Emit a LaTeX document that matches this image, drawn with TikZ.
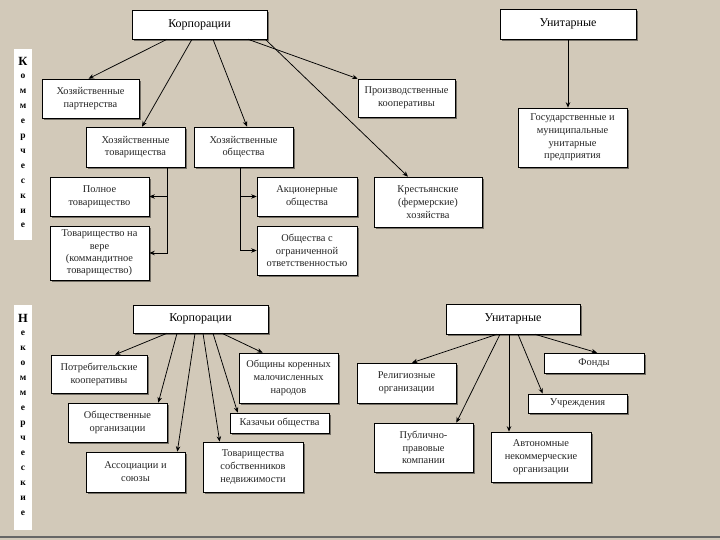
\documentclass[tikz,border=0pt]{standalone}
\usepackage{fontspec}
\setmainfont{Liberation Serif}
\usetikzlibrary{arrows.meta,shadows,calc}
\definecolor{bg}{RGB}{210,201,185}
\begin{document}
\begin{tikzpicture}[x=1pt,y=-1pt,
  box/.style={draw=black,line width=0.6pt,fill=white,inner sep=1pt,align=center,
    font=\fontsize{10.4}{12.8}\selectfont,text=black!85,
    drop shadow={shadow xshift=1.6pt,shadow yshift=-1.6pt,fill=black,opacity=0.45}},
  head/.style={box,font=\fontsize{12}{14}\selectfont,text=black},
  sz/.style 2 args={minimum width=#1pt,minimum height=#2pt},
  arr/.style={-{Stealth[length=5.5pt,width=4.5pt]},line width=0.75pt},
  stripbox/.style={fill=white,draw=none,inner sep=0pt},
  letter/.style={anchor=base,inner sep=0pt,font=\bfseries\fontsize{9.5}{11}\selectfont},
  bigletter/.style={anchor=base,inner sep=0pt,font=\bfseries\fontsize{12.5}{14}\selectfont}]
\useasboundingbox (0,0) rectangle (720,540);
\fill[bg] (0,0) rectangle (720,540);
\fill[black!60] (0,536) rectangle (720,538);

% ---------- vertical strips ----------
\node[stripbox,sz={18}{191}] (s1) at (23,144.5) {};
\node[bigletter] at (23,66) {К};
\foreach \l [count=\i from 0] in {о,м,м,е,р,ч,е,с,к,и,е}
  \node[letter] at (23,79+14.9*\i) {\l};
\node[stripbox,sz={18}{225}] (s2) at (23,417.5) {};
\node[bigletter] at (23,322) {Н};
\foreach \l [count=\i from 0] in {е,к,о,м,м,е,р,ч,е,с,к,и,е}
  \node[letter] at (23,335.5+15*\i) {\l};

% ---------- top: commercial ----------
\node[head,sz={135}{29}] (k1) at (199.5,24.5) {Корпорации};
\node[head,sz={136}{30}] (u1) at (568,24) {Унитарные};
\node[box,sz={97}{39}] (hp) at (90.5,98.5) {Хозяйственные\\партнерства};
\node[box,sz={97}{38}] (pk) at (406.5,98) {Производственные\\кооперативы};
\node[box,sz={99}{40}] (ht) at (135.5,147) {Хозяйственные\\товарищества};
\node[box,sz={99}{40}] (ho) at (243.5,147) {Хозяйственные\\общества};
\node[box,sz={99}{39}] (pt) at (99.5,196.5) {Полное\\товарищество};
\node[box,sz={99}{54},font=\fontsize{10.4}{12.2}\selectfont] (tv) at (99.5,253) {Товарищество на\\вере\\(коммандитное\\товарищество)};
\node[box,sz={100}{39}] (ao) at (307,196.5) {Акционерные\\общества};
\node[box,sz={100}{49}] (ooo) at (307,250.5) {Общества с\\ограниченной\\ответственностью};
\node[box,sz={108}{50}] (kfh) at (428,202) {Крестьянские\\(фермерские)\\хозяйства};
\node[box,sz={109}{59}] (gmup) at (572.5,137.5) {Государственные и\\муниципальные\\унитарные\\предприятия};

\draw[arr] ([xshift=-32.5pt]k1.south) -- ([xshift=-2pt]hp.north);
\draw[arr] ([xshift=-7.5pt]k1.south) -- ([xshift=6.5pt]ht.north);
\draw[arr] ([xshift=13.5pt]k1.south) -- ([xshift=3.5pt]ho.north);
\draw[arr] ([xshift=48.5pt]k1.south) -- (pk.north west);
\draw[arr] ([xshift=-2pt]k1.south east) -- ([xshift=-20pt]kfh.north);
\draw[arr] (u1.south) -- (u1.south |- gmup.north);

\draw[arr] ([xshift=31.5pt]ht.south) |- (tv.east);
\draw[arr] ([xshift=31.5pt]ht.south |- pt.east) -- (pt.east);
\draw[arr] ([xshift=-3.5pt]ho.south) |- (ooo.west);
\draw[arr] ([xshift=-3.5pt]ho.south |- ao.west) -- (ao.west);

% ---------- bottom: non-commercial ----------
\node[head,sz={135}{28}] (k2) at (200.5,319) {Корпорации};
\node[box,sz={96}{38}] (potr) at (99,374) {Потребительские\\кооперативы};
\node[box,sz={99}{50}] (obsh) at (288.5,378) {Общины коренных\\малочисленных\\народов};
\node[box,sz={99}{39}] (obor) at (117.5,422.5) {Общественные\\организации};
\node[box,sz={99}{20}] (kaz) at (279.5,423) {Казачьи общества};
\node[box,sz={99}{40}] (ass) at (135.5,472) {Ассоциации и\\союзы};
\node[box,sz={100}{50}] (tsn) at (253,467) {Товарищества\\собственников\\недвижимости};

\draw[arr] ([xshift=-33.5pt]k2.south) -- ([xshift=16pt]potr.north);
\draw[arr] ([xshift=-23.5pt]k2.south) -- ([xshift=-9pt]obor.north east);
\draw[arr] ([xshift=-5.5pt]k2.south) -- ([xshift=-8pt]ass.north east);
\draw[arr] ([xshift=2.5pt]k2.south) -- ([xshift=17pt]tsn.north west);
\draw[arr] ([xshift=12.5pt]k2.south) -- ([xshift=8pt]kaz.north west);
\draw[arr] ([xshift=21.5pt]k2.south) -- ([xshift=24pt]obsh.north west);

\node[head,sz={134}{30}] (u2) at (513,319) {Унитарные};
\node[box,sz={100}{20}] (fond) at (594,363) {Фонды};
\node[box,sz={99}{40}] (rel) at (406.5,383) {Религиозные\\организации};
\node[box,sz={99}{19}] (uch) at (577.5,403.5) {Учреждения};
\node[box,sz={99}{49}] (ppk) at (423.5,447.5) {Публично-\\правовые\\компании};
\node[box,sz={100}{50}] (ano) at (541,457) {Автономные\\некоммерческие\\организации};

\draw[arr] ([xshift=-16pt]u2.south) -- ([xshift=5.5pt]rel.north);
\draw[arr] ([xshift=-13pt]u2.south) -- ([xshift=-17pt]ppk.north east);
\draw[arr] ([xshift=-4pt]u2.south) -- ([xshift=-4pt]u2.south |- ano.north);
\draw[arr] ([xshift=5pt]u2.south) -- ([xshift=15pt]uch.north west);
\draw[arr] ([xshift=22pt]u2.south) -- ([xshift=3pt]fond.north);
\end{tikzpicture}
\end{document}
